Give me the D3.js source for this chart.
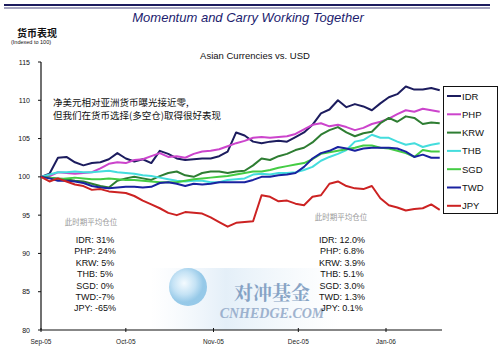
<!DOCTYPE html>
<html><head><meta charset="utf-8">
<script src="https://cdn.jsdelivr.net/npm/d3@7"></script>
<style>body{margin:0;background:#fff}svg{display:block}</style>
</head><body><svg id="c" width="500" height="357"></svg>
<script>
const dates = ["2005-09-01","2005-09-04","2005-09-07","2005-09-10","2005-09-13","2005-09-16","2005-09-19","2005-09-22","2005-09-25","2005-09-28",
"2005-10-01","2005-10-04","2005-10-07","2005-10-10","2005-10-13","2005-10-16","2005-10-19","2005-10-22","2005-10-25","2005-10-28","2005-10-31",
"2005-11-03","2005-11-06","2005-11-09","2005-11-12","2005-11-15","2005-11-18","2005-11-21","2005-11-24","2005-11-27","2005-11-30",
"2005-12-03","2005-12-06","2005-12-09","2005-12-12","2005-12-15","2005-12-18","2005-12-21","2005-12-24","2005-12-27","2005-12-30",
"2006-01-02","2006-01-05","2006-01-08","2006-01-11","2006-01-14","2006-01-17","2006-01-20"];
const IDR = [100,100.4,102.5,102.6,101.9,101.5,101.8,101.9,102.3,103.1,102.4,102,102.3,101.8,103.4,103,102.4,102.2,102.3,102.4,102.4,102.7,103.3,105.8,105.4,104.6,104.4,104.6,104.7,104.6,105.2,105.8,106.8,108.3,108.8,110,109.1,109.5,109.2,108.7,109.6,110.4,110.8,111.8,111.4,111.4,111.6,111.3];
const PHP = [100,100.1,100.6,100.5,100.4,100.5,100.6,101.1,101.7,101.9,101.8,102.2,102.3,102.7,103.1,102.6,102.7,102.5,103,103.3,103.4,103.6,104,104.4,104.7,105.1,105.2,105.1,105.2,105.3,105.6,106.2,106.8,107,106.6,106.8,106.5,106.1,106.4,106.9,107.2,107.6,108.2,108.7,108.5,108.9,108.7,108.5];
const KRW = [100,99.9,99.8,99.7,99.5,99.4,99.1,98.8,98.6,99.5,99.8,100,99.8,99.6,100.1,100.5,100.7,100.2,100,100.5,100.7,100.7,100.5,100.7,100.8,101.5,102.4,102.2,102.7,103,103.5,103.8,104.5,105.5,106.1,106.5,105.8,105.3,105.7,105.9,107,107.7,107.2,107.9,107.7,106.9,107.1,107];
const THB = [100,100.3,100.6,100.6,100.7,100.6,100.6,100.7,100.8,100.6,100.5,100.4,100.2,100.1,99.9,99.7,99.5,99.4,99.5,99.5,99.3,99.3,99.6,99.7,99.8,100.3,100.4,100.3,100.5,100.5,100.6,100.9,101.3,102.1,102.6,103,103.5,104.6,104.8,105.5,105.1,105.1,104.6,104.2,104.4,103.9,104.2,104.4];
const SGD = [100,99.9,99.7,99.8,99.9,99.8,99.7,99.7,99.8,99.7,99.6,99.6,99.5,99.4,99.3,99.3,99.3,99.5,99.7,99.8,99.9,100,100.1,100.3,100.5,100.7,100.7,100.9,101.2,101.4,101.6,101.8,102.3,103,103.2,103.4,103.6,103.8,104.1,104.1,103.8,103.7,103.4,103.1,102.6,103.5,103.3,103.3];
const TWD = [100,99.8,99.5,99.5,99.4,99.2,98.8,98.6,98.5,98.6,98.7,98.7,98.6,98.7,99.2,99.3,99.1,98.8,99.1,99,99.1,99.3,99.3,99.3,99.3,99.6,100,100,100.2,100.3,100.5,101.3,102.4,103.1,103.4,103.9,103.7,103.4,103.7,103.8,103.8,103.8,103.7,103.3,102.6,102.9,102.5,102.5];
const JPY = [100,99.4,99.8,99.4,99,98.8,98.3,98.4,98.1,98,97.9,97.5,96.9,96.4,95.9,95.3,95,95.4,95.3,95.2,94.7,94.1,93.5,94,94.1,94.2,97.6,97.4,96.8,96.9,96.5,96.3,97.4,97.6,99.1,99.4,98.8,98.5,98.4,98.8,97.2,96.3,96,95.6,95.8,95.9,96.4,95.7];
const seriesNames = ["IDR","PHP","KRW","THB","SGD","TWD","JPY"];
const seriesColors = ["#1c1c5e","#cc44cc","#2e7d32","#44dddd","#44cc44","#1a22a0","#cc2222"];
const yTicks = [80,85,90,95,100,105,110,115];
const xTickDates = ["2005-09-01","2005-10-01","2005-11-01","2005-12-01","2006-01-01"];
const xTickLabels = ["Sep-05","Oct-05","Nov-05","Dec-05","Jan-06"];
const leftAlloc = ["IDR: 31%","PHP: 24%","KRW: 5%","THB: 5%","SGD: 0%","TWD:-7%","JPY: -65%"];
const rightAlloc = ["IDR: 12.0%","PHP: 6.8%","KRW: 3.9%","THB: 5.1%","SGD: 3.0%","TWD: 1.3%","JPY: 0.1%"];
const noteLines = ["净美元相对亚洲货币曝光接近零,","但我们在货币选择(多空仓)取得很好表现"];

const seriesData = [IDR,PHP,KRW,THB,SGD,TWD,JPY];
const parse = d3.utcParse("%Y-%m-%d");
const svg = d3.select("#c");
const font = "Arial, 'Liberation Sans', sans-serif";
const cjk = "'Noto Sans CJK SC', sans-serif";

const x = d3.scaleUtc().domain([parse("2005-09-01"), parse("2006-01-01")]).range([41, 386]);
const y = d3.scaleLinear().domain([80,115]).range([330,62]);

// top rules
svg.append("line").attr("x1",4).attr("x2",490).attr("y1",5).attr("y2",5).attr("stroke","#1c1c5e").attr("stroke-width",2);
svg.append("line").attr("x1",4).attr("x2",490).attr("y1",8).attr("y2",8).attr("stroke","#1c1c5e").attr("stroke-width",0.8);

svg.append("text").attr("x",248).attr("y",22).attr("text-anchor","middle").attr("font-family",font).attr("font-style","italic")
  .attr("font-size",13).attr("fill","#1c1c6e").text("Momentum and Carry Working Together");
svg.append("text").attr("x",37).attr("y",37).attr("text-anchor","middle").attr("font-family",cjk).attr("font-size",10).attr("font-weight","bold").attr("fill","#111").text("货币表现");
svg.append("text").attr("x",31).attr("y",44).attr("text-anchor","middle").attr("font-family",font).attr("font-size",5.5).attr("fill","#111").text("(Indexed to 100)");
svg.append("text").attr("x",255).attr("y",59).attr("text-anchor","middle").attr("font-family",font).attr("font-size",9.5).attr("fill","#111").text("Asian Currencies vs. USD");

// watermark
const defs = svg.append("defs");
const rg = defs.append("radialGradient").attr("id","glb").attr("cx","40%").attr("cy","40%");
rg.append("stop").attr("offset","0%").attr("stop-color","#f4fbff");
rg.append("stop").attr("offset","60%").attr("stop-color","#bfe0f4");
rg.append("stop").attr("offset","100%").attr("stop-color","#8cc4e6");
const lg = defs.append("linearGradient").attr("id","band");
lg.append("stop").attr("offset","0%").attr("stop-color","#eef5fb").attr("stop-opacity",0);
lg.append("stop").attr("offset","40%").attr("stop-color","#e4eff8").attr("stop-opacity",1);
lg.append("stop").attr("offset","100%").attr("stop-color","#eef5fb").attr("stop-opacity",0);
svg.append("rect").attr("x",150).attr("y",268).attr("width",190).attr("height",62).attr("fill","url(#band)");
svg.append("circle").attr("cx",188).attr("cy",287).attr("r",19).attr("fill","url(#glb)").attr("opacity",0.9);
svg.append("text").attr("x",272).attr("y",300).attr("text-anchor","middle").attr("font-family","'Noto Serif CJK SC','Noto Sans CJK SC',serif").attr("font-weight","bold").attr("font-size",19).attr("fill","#6d8fb8").attr("opacity",0.8).text("对冲基金");
svg.append("text").attr("x",272).attr("y",318).attr("text-anchor","middle").attr("font-family","'Liberation Serif','DejaVu Serif',serif").attr("font-style","italic").attr("font-weight","bold").attr("font-size",14).attr("fill","#8aa2c4").attr("opacity",0.8).text("CNHEDGE.COM");

// axes
svg.append("line").attr("x1",41).attr("x2",41).attr("y1",y(115)).attr("y2",y(80)).attr("stroke","#111").attr("stroke-width",1.2);
svg.append("line").attr("x1",41).attr("x2",442).attr("y1",y(80)).attr("y2",y(80)).attr("stroke","#111").attr("stroke-width",1.2);
yTicks.forEach(v=>{
  svg.append("line").attr("x1",38).attr("x2",41).attr("y1",y(v)).attr("y2",y(v)).attr("stroke","#111");
  svg.append("text").attr("x",30).attr("y",y(v)+2.5).attr("text-anchor","end").attr("font-family",font).attr("font-size",7).attr("fill","#111").text(v);
});
xTickDates.forEach((d,i)=>{
  const xx = x(parse(d));
  svg.append("line").attr("x1",xx).attr("x2",xx).attr("y1",y(80)-2).attr("y2",y(80)+2).attr("stroke","#111");
  svg.append("text").attr("x",xx).attr("y",344).attr("text-anchor","middle").attr("font-family",font).attr("font-size",6.5).attr("fill","#222").text(xTickLabels[i]);
});

// annotation
noteLines.forEach((t,i)=>{
  svg.append("text").attr("x",53).attr("y",106+i*13).attr("font-family",cjk).attr("font-size",9.5).attr("fill","#111").text(t);
});
svg.append("text").attr("x",91).attr("y",225).attr("text-anchor","middle").attr("font-family",cjk).attr("font-size",7.5).attr("fill","#999").text("此时期平均仓位");
svg.append("text").attr("x",341).attr("y",220).attr("text-anchor","middle").attr("font-family",cjk).attr("font-size",7.5).attr("fill","#999").text("此时期平均仓位");
leftAlloc.forEach((t,i)=>{
  svg.append("text").attr("x",95).attr("y",243+i*11.4).attr("text-anchor","middle").attr("font-family",font).attr("font-size",9).attr("fill","#111").text(t);
});
rightAlloc.forEach((t,i)=>{
  svg.append("text").attr("x",342).attr("y",243+i*11.4).attr("text-anchor","middle").attr("font-family",font).attr("font-size",9).attr("fill","#111").text(t);
});

// lines
const line = d3.line().x((d,i)=>x(parse(dates[i]))).y(d=>y(d));
seriesData.forEach((s,k)=>{
  svg.append("path").datum(s).attr("d",line).attr("fill","none").attr("stroke",seriesColors[k]).attr("stroke-width",2).attr("stroke-linejoin","round");
});

// legend
const lgG = svg.append("g");
lgG.append("rect").attr("x",443.5).attr("y",86.5).attr("width",54).attr("height",127).attr("fill","#fff").attr("stroke","#111");
seriesNames.forEach((n,i)=>{
  const yy = 96 + i*18.3;
  lgG.append("line").attr("x1",447).attr("x2",461).attr("y1",yy).attr("y2",yy).attr("stroke",seriesColors[i]).attr("stroke-width",2);
  lgG.append("text").attr("x",462).attr("y",yy+3.5).attr("font-family",font).attr("font-size",9.5).attr("fill","#111").text(n);
});
</script></body></html>
